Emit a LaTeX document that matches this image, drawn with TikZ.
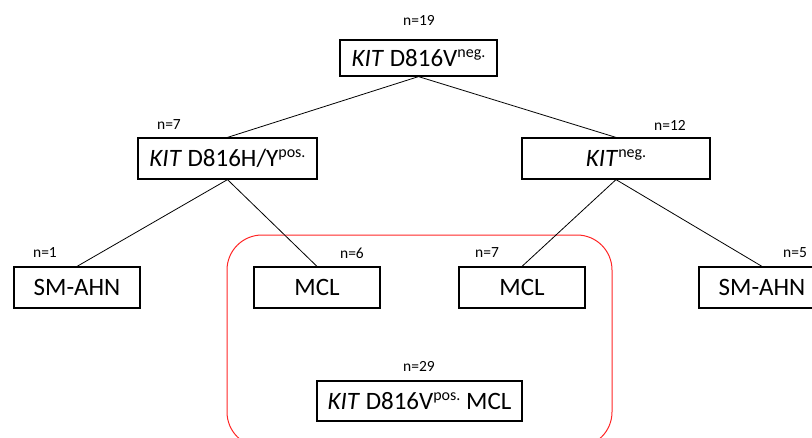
\documentclass[tikz,border=0pt]{standalone}
\usepackage{fontspec}
\setmainfont{Carlito}
\usetikzlibrary{positioning}
\newcommand{\hi}[1]{\raisebox{0.36em}{\fontsize{16}{16}\selectfont #1}}

\begin{document}
\begin{tikzpicture}[x=1pt,y=-1pt,
    box/.style={draw,line width=1.2pt,minimum height=41pt,inner sep=0pt,font=\fontsize{25}{30}\selectfont},
    cnt/.style={inner sep=0pt,font=\fontsize{15.5}{18}\selectfont}]

  \useasboundingbox (0,0) rectangle (812,437);
  \clip (0,0) rectangle (812,437);

  % tree boxes
  \node[box,minimum width=157pt,minimum height=36pt] (root) at (418.5,58) {\textit{KIT} D816V\hi{neg.}};
  \node[box,minimum width=179pt] (hy)   at (227.5,158.5) {\textit{KIT} D816H/Y\hi{pos.}};
  \node[box,minimum width=188pt] (neg)  at (616,158.5)   {\textit{KIT}\hi{neg.}};
  \node[box,minimum width=126pt] (ahnl) at (77,287.5)    {SM-AHN};
  \node[box,minimum width=126pt] (mcll) at (317,287.5)   {MCL};
  \node[box,minimum width=126pt] (mclr) at (522,287.5)   {MCL};
  \node[box,minimum width=126pt] (ahnr) at (762,287.5)   {SM-AHN};
  \node[box,minimum width=205pt,minimum height=40pt] (tot) at (419.5,401) {\textit{KIT} D816V\hi{pos.} MCL};

  % counts
  \node[cnt] (nroot) at (419,20)  {n=19};
  \node[cnt] (nhy)   at (169,125) {n=7};
  \node[cnt] (nneg)  at (670,125) {n=12};
  \node[cnt] (nahnl) at (45,253)  {n=1};
  \node[cnt] (nmcll) at (352,253) {n=6};
  \node[cnt] (nmclr) at (487,253) {n=7};
  \node[cnt] (nahnr) at (795,253) {n=5};
  \node[cnt] (ntot)  at (419,366) {n=29};

  % group of MCL cases
  \draw[red!85!white,line width=1pt,rounded corners=35pt] (227,235) rectangle (612,447);

  \draw[line width=0.8pt]
        (root.south) -- (hy.north)
        (root.south) -- (neg.north)
        (hy.south) -- (ahnl.north)
        (hy.south) -- (mcll.north)
        (neg.south) -- (mclr.north)
        (neg.south) -- (ahnr.north);

\end{tikzpicture}
\end{document}
